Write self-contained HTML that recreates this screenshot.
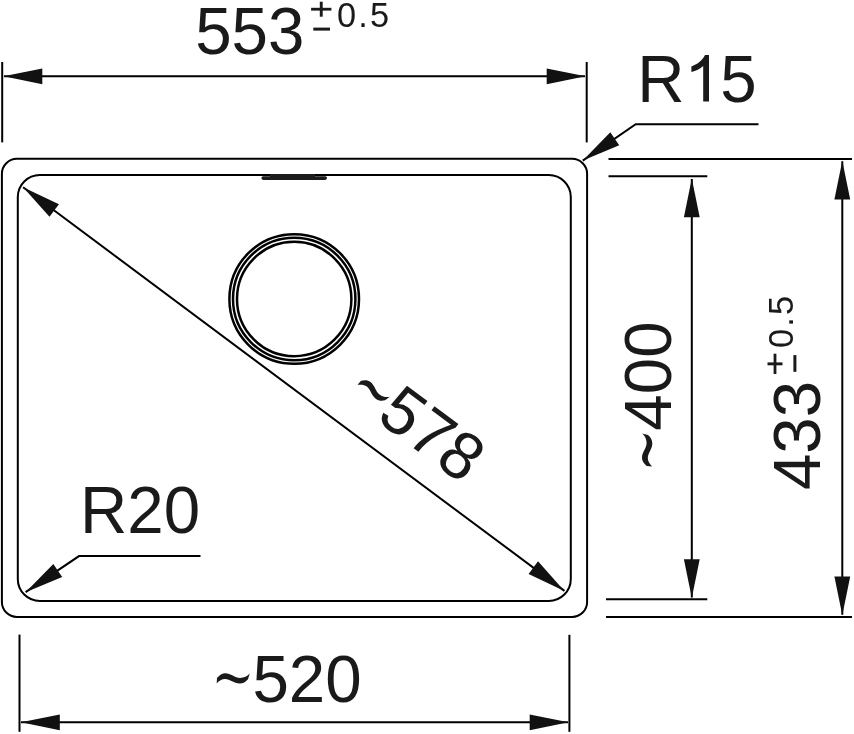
<!DOCTYPE html>
<html><head><meta charset="utf-8"><style>
html,body{margin:0;padding:0;background:#fff;width:854px;height:734px;overflow:hidden}
svg{display:block;will-change:transform}
.g line,.g rect,.g circle,.g polyline{fill:none;stroke:#000;stroke-width:2}
.g rect.f{fill:#1c1c1c;stroke:none}
.g polygon{fill:#111;stroke:none}
.sup rect,.one,.tl{fill:#1a1a1a}
text{font-family:"Liberation Sans",sans-serif;fill:#1a1a1a}
</style></head><body>
<svg width="854" height="734" viewBox="0 0 854 734">
<defs><path id="tilde" class="tl" transform="translate(-35.7,-28.4)" d="M0.3,4.6 C3,1.5 5.5,-0.1 8.6,-0.1 C14,-0.1 18.3,4.5 23.3,4.5 C27.5,4.5 30.8,2.6 33,0.1 L31.3,5.9 C29,8.6 26.5,10.2 22.8,10.2 C17.3,10.2 13.2,5.7 8.4,5.7 C5,5.7 2.5,7.6 0,10 Z"/></defs>
<g class="g">
<line x1="2.2" y1="62" x2="2.2" y2="142.4"/>
<line x1="586.7" y1="62" x2="586.7" y2="142.4"/>
<line x1="4" y1="76.3" x2="585" y2="76.3"/>
<polygon points="3.50,76.30 42.30,68.40 42.30,84.20"/>
<polygon points="585.50,76.30 546.70,84.20 546.70,68.40"/>
<rect x="1.9" y="158.8" width="585.2" height="458.1" rx="15" ry="15"/>
<rect x="17.8" y="175" width="553" height="425.9" rx="22" ry="22"/>
<rect class="f" x="261.4" y="176.2" width="65.6" height="3.7" rx="1.8" ry="1.8"/>
<rect class="f" x="270" y="174" width="45" height="6"/>
<circle cx="294.2" cy="299" r="64.8" style="stroke-width:2.5"/>
<circle cx="294.2" cy="299" r="61.2" style="stroke-width:2.5"/>
<circle cx="294.2" cy="299" r="57.2" style="stroke-width:2.5"/>
<line x1="23.1" y1="187.3" x2="564.4" y2="590.9"/>
<polygon points="23.10,187.30 58.93,204.16 49.48,216.83"/>
<polygon points="564.40,590.90 528.57,574.04 538.02,561.37"/>
<polyline points="758.5,124.3 635.7,124.3 582.8,160.6"/>
<polygon points="582.80,160.60 610.32,132.13 619.26,145.16"/>
<polyline points="200.5,556.1 79,556.1 25.6,592.2"/>
<polygon points="25.60,592.20 53.32,563.92 62.17,577.01"/>
<line x1="608.5" y1="159.1" x2="852" y2="159.1"/>
<line x1="608.5" y1="176.2" x2="707.3" y2="176.2"/>
<line x1="606" y1="599.2" x2="707.3" y2="599.2"/>
<line x1="606" y1="617" x2="852" y2="617"/>
<line x1="691.8" y1="179" x2="691.8" y2="597.5"/>
<polygon points="691.80,178.50 699.70,217.30 683.90,217.30"/>
<polygon points="691.80,598.00 683.90,559.20 699.70,559.20"/>
<line x1="842.3" y1="161.2" x2="842.3" y2="614.7"/>
<polygon points="842.30,160.70 850.20,199.50 834.40,199.50"/>
<polygon points="842.30,615.20 834.40,576.40 850.20,576.40"/>
<line x1="19.5" y1="634.6" x2="19.5" y2="731.8"/>
<line x1="569.4" y1="634.8" x2="569.4" y2="731.8"/>
<line x1="21" y1="722.3" x2="568" y2="722.3"/>
<polygon points="21.00,722.30 59.80,714.40 59.80,730.20"/>
<polygon points="568.50,722.30 529.70,730.20 529.70,714.40"/>
</g>
<g transform="translate(195.2,54.3)"><text transform="scale(1,1.025)" font-size="65.5">553</text></g>
<g transform="translate(637.2,101.6)"><text transform="scale(1,1.025)" font-size="65.5">R</text></g>
<path class="one" d="M709,55 L709,101.6 L703.2,101.6 L703.2,66 C700,69 696,71 691.4,72 L691.4,66.4 C697,64.5 702.5,60.5 705,55 Z"/>
<g transform="translate(720.3,101.6)"><text transform="scale(1,1.025)" font-size="65.5">5</text></g>
<g transform="translate(80,533)"><text transform="scale(1,1.025)" font-size="65.5">R20</text></g>
<g transform="translate(252.4,701.8)"><use href="#tilde"/><text transform="scale(1,1.025)" font-size="65.5">520</text></g>
<g transform="translate(670.5,430.7) rotate(-90)"><use href="#tilde"/><text transform="scale(1,1.025)" font-size="65.5">400</text></g>
<g transform="translate(820.3,490.1) rotate(-90)"><text transform="scale(1,1.025)" font-size="65.5">433</text></g>
<g transform="translate(344.3,396.7) rotate(36.7)"><g transform="translate(38.25,0)"><use href="#tilde" x="1" y="1"/><text transform="scale(1,1.025)" font-size="65.5">578</text></g></g>
<g class="sup"><rect x="311.1" y="7.8" width="20.3" height="2.8"/><rect x="319.8" y="1.7" width="2.9" height="15"/><rect x="313.3" y="27.6" width="16.7" height="3"/></g>
<text transform="translate(337.1,27.3) scale(1.01,1.045)" font-size="34" letter-spacing="2.1">0.5</text>
<g transform="translate(793.1,375) rotate(-90)"><g class="sup"><rect x="1" y="-19.5" width="20.3" height="2.8"/><rect x="9.7" y="-25.6" width="2.9" height="15"/><rect x="3.2" y="0.3" width="16.7" height="3"/></g><text transform="translate(27,0) scale(1.01,1.045)" font-size="34" letter-spacing="2.1">0.5</text></g>
</svg>
</body></html>
